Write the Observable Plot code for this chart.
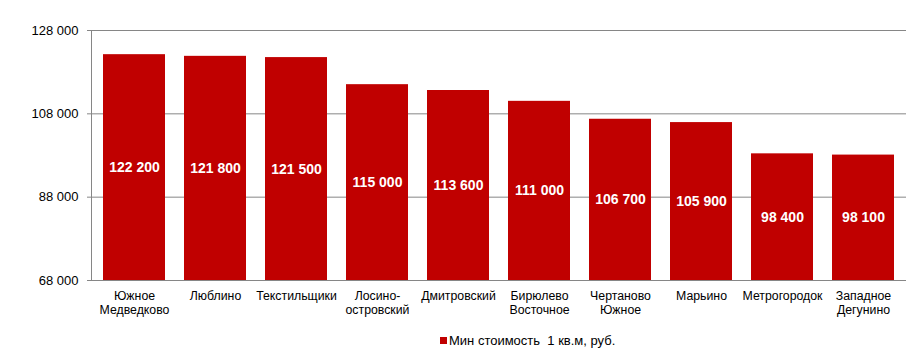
<!DOCTYPE html>
<html>
<head>
<meta charset="utf-8">
<script src="https://cdn.jsdelivr.net/npm/d3@7"></script>
<script src="https://cdn.jsdelivr.net/npm/@observablehq/plot@0.6"></script>
<style>
  body { margin: 0; background: #fff; font-family: Arial, "Liberation Sans", sans-serif; }
  #chart { position: relative; width: 907px; height: 357px; }
  .legend { position: absolute; left: 440px; top: 333px; font-size: 13px; color: #000; display: flex; align-items: center; white-space: pre; }
  .legend .sw { width: 7px; height: 7px; background: #C00000; margin-right: 2px; }
</style>
</head>
<body>
<div id="chart"></div>
<script>
const districts = ["Южное\nМедведково", "Люблино", "Текстильщики", "Лосино-\nостровский", "Дмитровский", "Бирюлево\nВосточное", "Чертаново\nЮжное", "Марьино", "Метрогородок", "Западное\nДегунино"];
const prices = [122200, 121800, 121500, 115000, 113600, 111000, 106700, 105900, 98400, 98100];
const yTicks = [68000, 88000, 108000, 128000];
const seriesName = "Мин стоимость  1 кв.м, руб.";

const yMin = 68000, yMax = 128000;
const data = districts.map((d, i) => ({district: d, value: prices[i]}));
const fmt = v => d3.format(",")(v).replace(/,/g, " ");

const plot = Plot.plot({
  width: 907,
  height: 320,
  marginTop: 30,
  marginBottom: 40,
  marginLeft: 91,
  marginRight: 1,
  style: {fontFamily: "Arial, 'Liberation Sans', sans-serif", background: "#fff"},
  x: {domain: districts, paddingInner: 0.24, paddingOuter: 0.12, label: null},
  y: {domain: [yMin, yMax], label: null},
  marks: [
    Plot.gridY(yTicks, {stroke: "#868686", strokeOpacity: 1}),
    Plot.barY(data, {x: "district", y1: yMin, y2: "value", fill: "#C00000"}),
    Plot.ruleY([yMin], {stroke: "#868686"}),
    Plot.frame({anchor: "left", stroke: "#868686"}),
    Plot.axisY({ticks: yTicks, tickFormat: fmt, tickSize: 4, tickPadding: 9, fontSize: 13, stroke: "#868686", fill: "#000", label: null}),
    Plot.axisX({tickSize: 0, tickPadding: 9, fontSize: 12.3, fill: "#000", lineHeight: 1.15, label: null}),
    Plot.text(data, {x: "district", y: d => (d.value + yMin) / 2, text: d => fmt(d.value), fill: "#fff", fontSize: 14, fontWeight: "bold"})
  ]
});
document.getElementById("chart").appendChild(plot);
const lg = document.createElement("div");
lg.className = "legend";
lg.innerHTML = '<span class="sw"></span><span></span>';
lg.lastChild.textContent = seriesName;
document.getElementById("chart").appendChild(lg);
</script>
</body>
</html>
